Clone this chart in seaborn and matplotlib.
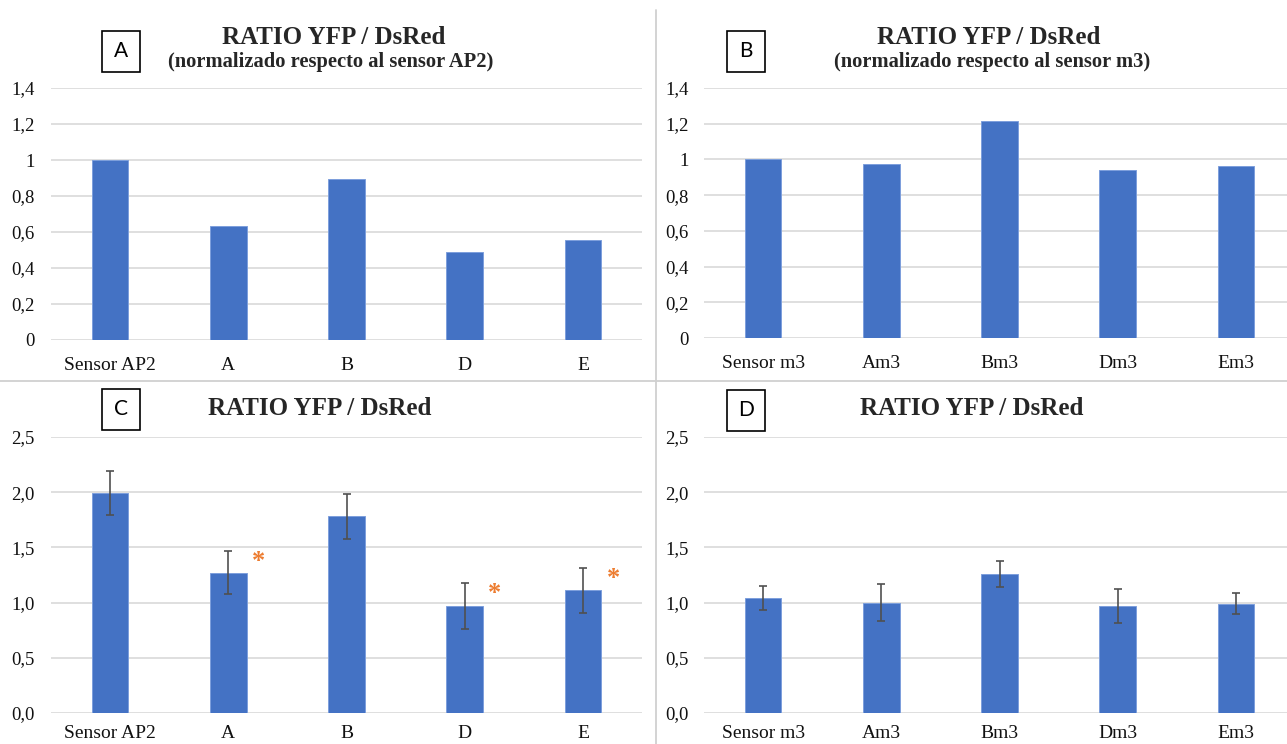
import matplotlib
matplotlib.use("Agg")
import matplotlib.pyplot as plt
from matplotlib.patches import Rectangle
from matplotlib.lines import Line2D
from matplotlib.ticker import FixedLocator, FixedFormatter
import numpy as np
import pandas as pd
import seaborn as sns

# ---- data ----
labels_ap2 = ["Sensor AP2", "A", "B", "D", "E"]
labels_m3 = ["Sensor m3", "Am3", "Bm3", "Dm3", "Em3"]

norm_ap2 = [1.00, 0.635, 0.895, 0.49, 0.555]
norm_m3 = [1.00, 0.975, 1.215, 0.94, 0.965]

ratio_ap2 = [1.99, 1.27, 1.78, 0.97, 1.11]
err_ap2 = [0.20, 0.195, 0.20, 0.205, 0.20]
ratio_m3 = [1.04, 1.00, 1.26, 0.97, 0.99]
err_m3 = [0.11, 0.165, 0.12, 0.155, 0.095]

signif_ap2 = ["A", "D", "E"]

ticks_norm = [0, 0.2, 0.4, 0.6, 0.8, 1.0, 1.2, 1.4]
ticklabels_norm = ["0", "0,2", "0,4", "0,6", "0,8", "1", "1,2", "1,4"]
ticks_ratio = [0, 0.5, 1.0, 1.5, 2.0, 2.5]
ticklabels_ratio = ["0,0", "0,5", "1,0", "1,5", "2,0", "2,5"]

title = "RATIO YFP / DsRed"
sub_ap2 = "(normalizado respecto al sensor AP2)"
sub_m3 = "(normalizado respecto al sensor m3)"

# ---- style ----
sns.set_theme(style="white")
plt.rcParams["font.family"] = ["Liberation Serif", "DejaVu Serif"]

BAR = "#4472C4"
GRID = "#d9d9d9"
ERR = "#505050"
STAR = "#ED7D31"

W, H = 1287, 744
fig = plt.figure(figsize=(W / 100, H / 100), dpi=100)


def px_axes(left, top, right, bottom):
    return fig.add_axes([left / W, 1 - bottom / H, (right - left) / W, (bottom - top) / H])


def draw_panel(ax, cats, vals, ticks, ticklabels, ymax, ypad, xpad, errs=None):
    df = pd.DataFrame({"cat": cats, "val": vals})
    sns.barplot(data=df, x="cat", y="val", ax=ax, color=BAR, saturation=1,
                width=0.31, errorbar=None, zorder=3)
    for p in ax.patches:
        p.set_edgecolor("#7d9fdc")
        p.set_linewidth(0.7)
    if errs is not None:
        ax.errorbar(np.arange(len(cats)), vals, yerr=errs, fmt="none",
                    ecolor=ERR, elinewidth=1.2, capsize=2.8, capthick=1.2, zorder=4)
    ax.set_xlim(-0.5, len(cats) - 0.5)
    ax.set_ylim(0, ymax)
    ax.yaxis.set_major_locator(FixedLocator(ticks))
    ax.yaxis.set_major_formatter(FixedFormatter(ticklabels))
    ax.grid(axis="y", color=GRID, linewidth=1.2, zorder=0)
    ax.grid(axis="x", visible=False)
    for s in ax.spines.values():
        s.set_visible(False)
    ax.tick_params(axis="y", length=0, pad=ypad, labelsize=13.5, labelcolor="#111111")
    ax.tick_params(axis="x", length=0, pad=xpad, labelsize=14, labelcolor="#111111")
    ax.set_xlabel("")
    ax.set_ylabel("")
    ax.set_facecolor("none")


def letter_box(cx, cy, letter):
    bw, bh = 38, 41
    fig.patches.append(Rectangle(((cx - bw / 2) / W, 1 - (cy + bh / 2) / H), bw / W, bh / H,
                                 transform=fig.transFigure, fill=False,
                                 edgecolor="black", linewidth=1.2))
    fig.text(cx / W, 1 - cy / H, letter, ha="center", va="center",
             fontsize=15, family=["Lato", "DejaVu Sans"], color="black")


# Panel A
axA = px_axes(51, 88, 642, 340)
draw_panel(axA, labels_ap2, norm_ap2, ticks_norm, ticklabels_norm, 1.4, 12, 12)
# Panel B
axB = px_axes(704, 88, 1295, 338)
draw_panel(axB, labels_m3, norm_m3, ticks_norm, ticklabels_norm, 1.4, 11, 12)
# Panel C
axC = px_axes(51, 437, 642, 713)
draw_panel(axC, labels_ap2, ratio_ap2, ticks_ratio, ticklabels_ratio, 2.5, 12, 8.5, err_ap2)
# Panel D
axD = px_axes(704, 437, 1295, 713)
draw_panel(axD, labels_m3, ratio_m3, ticks_ratio, ticklabels_ratio, 2.5, 11, 8.5, err_m3)

# significance marks beside the error bars
for cat in signif_ap2:
    i = labels_ap2.index(cat)
    top = ratio_ap2[i] + err_ap2[i]
    axC.text(i + 0.255, top - 0.09, "*", ha="center", va="center",
             fontsize=19, fontweight="bold", color=STAR, zorder=5)

# titles
fig.text(334 / W, 1 - 37 / H, title, ha="center", va="center", fontsize=18, fontweight="bold")
fig.text(331 / W, 1 - 62 / H, sub_ap2, ha="center", va="center", fontsize=14.8, fontweight="bold")
fig.text(989 / W, 1 - 37 / H, title, ha="center", va="center", fontsize=18, fontweight="bold")
fig.text(992 / W, 1 - 62 / H, sub_m3, ha="center", va="center", fontsize=14.8, fontweight="bold")
fig.text(320 / W, 1 - 409 / H, title, ha="center", va="center", fontsize=18, fontweight="bold")
fig.text(972 / W, 1 - 409 / H, title, ha="center", va="center", fontsize=18, fontweight="bold")

letter_box(121, 51, "A")
letter_box(746, 51, "B")
letter_box(121, 409, "C")
letter_box(746, 410, "D")

# panel separators
fig.add_artist(Line2D([656 / W, 656 / W], [0, 1 - 10 / H], transform=fig.transFigure,
                      color="#d0d0d0", linewidth=1.3))
fig.add_artist(Line2D([0, 1], [1 - 381 / H, 1 - 381 / H], transform=fig.transFigure,
                      color="#d0d0d0", linewidth=1.3))

fig.savefig("out.png", dpi=100, facecolor="white")
